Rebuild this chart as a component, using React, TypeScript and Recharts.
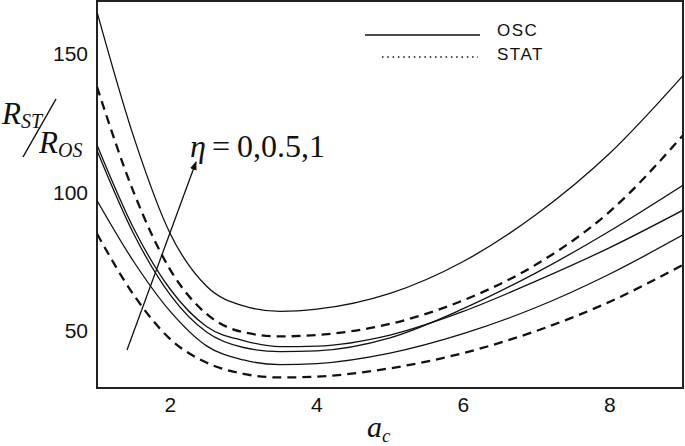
import { LineChart, Line, XAxis, YAxis, ReferenceArea } from "recharts";

const A_C = [1, 1.5, 2, 2.5, 3, 3.5, 4, 5, 6, 7, 8, 9];

// oscillatory (solid) curves
const OSC_1 = [165, 120, 85, 66, 59, 57, 57.8, 63.5, 75, 92, 114, 142];
const OSC_2 = [117, 87, 65, 51.5, 46.5, 44.3, 44.5, 48.5, 57, 68, 80, 93.5];
const OSC_3 = [115, 85, 63, 49.5, 44, 42.5, 42.8, 47.5, 58, 71, 86, 102.5];
const OSC_4 = [97, 75, 57, 44.5, 39.5, 37.8, 38.2, 42, 49, 58.5, 70.5, 84.6];

// stationary (dashed) curves
const STAT_1 = [138, 100, 72, 56, 49.5, 48, 48.5, 52.5, 61, 74, 93, 120.5];
const STAT_2 = [85, 63, 47, 38.5, 34.5, 33.2, 33.5, 36.5, 42, 50, 60.5, 73.8];

const X_TICKS = [2, 4, 6, 8];
const Y_TICKS = [50, 100, 150];
const X_DOMAIN = [1, 9];
const Y_DOMAIN = [29.4, 168.9];

const INK = "#111";
const FRAME = "#222";
const TICK = { fill: INK, fontSize: 21, fontFamily: "Liberation Sans, Arial, sans-serif" };

const data = A_C.map((a, i) => ({
  a,
  osc1: OSC_1[i],
  osc2: OSC_2[i],
  osc3: OSC_3[i],
  osc4: OSC_4[i],
  stat1: STAT_1[i],
  stat2: STAT_2[i],
}));

const OSC_KEYS = ["osc1", "osc2", "osc3", "osc4"];
const STAT_KEYS = ["stat1", "stat2"];

function Overlay() {
  const serif = "Liberation Serif, Times New Roman, serif";
  const sans = "Liberation Sans, Arial, sans-serif";
  return (
    <svg width={685} height={446} style={{ position: "absolute", left: 0, top: 0, pointerEvents: "none" }}>
      <defs>
        <marker id="head" markerWidth="10" markerHeight="10" refX="8" refY="4" orient="auto" markerUnits="userSpaceOnUse">
          <path d="M0,0.5 L9,4 L0,7.5 Z" fill={INK} />
        </marker>
      </defs>
      {/* legend */}
      <line x1={365} y1={35} x2={480} y2={35} stroke={INK} strokeWidth={1.3} />
      <text x={497} y={36} fontSize={17} fontFamily={sans} fill={INK} letterSpacing={1.5}>OSC</text>
      <line x1={382} y1={57} x2={478} y2={57} stroke={INK} strokeWidth={1.6} strokeDasharray="1.5 3.8" />
      <text x={497} y={60} fontSize={17} fontFamily={sans} fill={INK} letterSpacing={1.5}>STAT</text>
      {/* eta annotation */}
      <text y={157} fontSize={32} fontFamily={serif} fill={INK}>
        <tspan x={190} fontStyle="italic">η</tspan>
        <tspan x={212}>=</tspan>
        <tspan x={237}>0,0.5,1</tspan>
      </text>
      <line x1={127} y1={350} x2={196} y2={162} stroke={INK} strokeWidth={1.3} markerEnd="url(#head)" />
      {/* y label R_ST / R_OS */}
      <text x={2} y={124} fontSize={31} fontFamily={serif} fontStyle="italic" fill={INK}>
        R<tspan fontSize={20} dy={4}>ST</tspan>
      </text>
      <line x1={56} y1={99} x2={23} y2={157} stroke={INK} strokeWidth={1.5} />
      <text x={39} y={153} fontSize={31} fontFamily={serif} fontStyle="italic" fill={INK}>
        R<tspan fontSize={20} dy={4}>OS</tspan>
      </text>
      {/* x label a_c */}
      <text x={367} y={437} fontSize={30} fontFamily={serif} fontStyle="italic" fill={INK}>
        a<tspan fontSize={19} dy={5}>c</tspan>
      </text>
    </svg>
  );
}

export default function App() {
  return (
    <div style={{ position: "absolute", left: 0, top: 0, width: 685, height: 446, background: "#fff" }}>
      <LineChart width={685} height={446} data={data} margin={{ top: 1, right: 2, bottom: 0, left: 0 }}>
        <XAxis
          dataKey="a"
          type="number"
          domain={X_DOMAIN}
          ticks={X_TICKS}
          allowDataOverflow
          height={58}
          tickLine={false}
          tickMargin={3}
          axisLine={false}
          tick={TICK}
        />
        <YAxis
          type="number"
          domain={Y_DOMAIN}
          ticks={Y_TICKS}
          allowDataOverflow
          width={97}
          tickLine={false}
          tickMargin={3}
          axisLine={false}
          tick={TICK}
        />
        {OSC_KEYS.map((k) => (
          <Line key={k} dataKey={k} type="monotone" stroke={INK} strokeWidth={1.3} dot={false} isAnimationActive={false} />
        ))}
        {STAT_KEYS.map((k) => (
          <Line key={k} dataKey={k} type="monotone" stroke={INK} strokeWidth={2.3} strokeDasharray="9 6" dot={false} isAnimationActive={false} />
        ))}
        <ReferenceArea
          x1={X_DOMAIN[0]}
          x2={X_DOMAIN[1]}
          y1={Y_DOMAIN[0]}
          y2={Y_DOMAIN[1]}
          fill="none"
          stroke={FRAME}
          strokeWidth={2}
          ifOverflow="visible"
        />
      </LineChart>
      <Overlay />
    </div>
  );
}
